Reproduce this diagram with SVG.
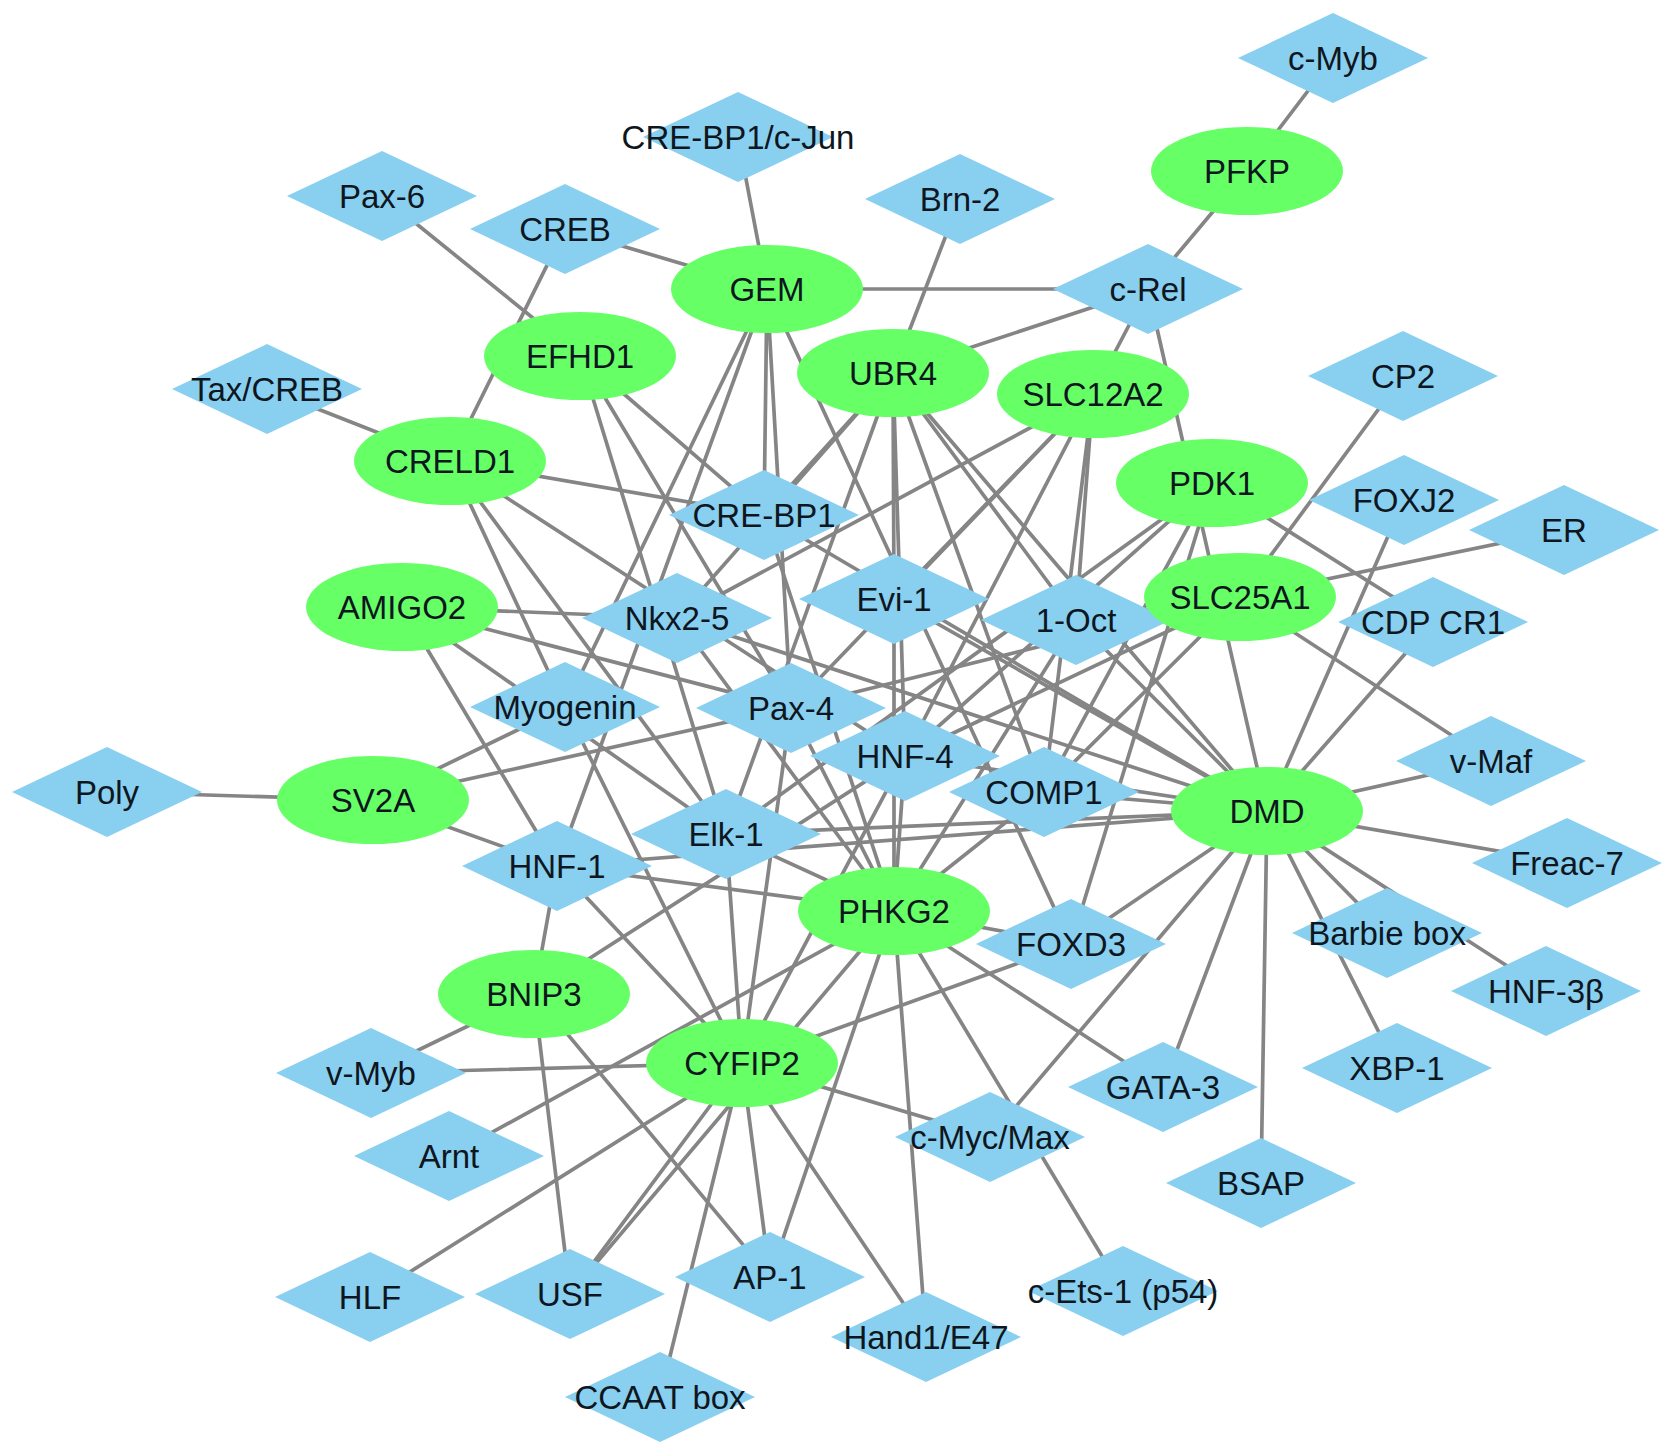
<svg xmlns="http://www.w3.org/2000/svg" xmlns:xlink="http://www.w3.org/1999/xlink" width="1677" height="1456" viewBox="0 0 1677 1456">
<style>
.edges line{stroke:#858585;stroke-width:3.7;stroke-linecap:round}
.dia{fill:#89cff0}
.ell{fill:#66ff66}
text{font-family:"Liberation Sans",Arial,sans-serif;font-size:33px;fill:#0e1620;text-anchor:middle}
</style>
<defs>
<polygon id="dm" class="dia" points="-95,0 0,-45 95,0 0,45"/>
<ellipse id="el" class="ell" cx="0" cy="0" rx="96" ry="44"/>
</defs>
<rect width="1677" height="1456" fill="#fff"/>
<g class="edges" id="edges">
<line x1="1333" y1="58" x2="1247" y2="171"/>
<line x1="1247" y1="171" x2="1148" y2="289"/>
<line x1="738" y1="137" x2="767" y2="289"/>
<line x1="565" y1="229" x2="767" y2="289"/>
<line x1="565" y1="229" x2="450" y2="461"/>
<line x1="382" y1="196" x2="580" y2="356"/>
<line x1="767" y1="289" x2="1148" y2="289"/>
<line x1="960" y1="199" x2="893" y2="373"/>
<line x1="893" y1="373" x2="1148" y2="289"/>
<line x1="1093" y1="394" x2="1148" y2="289"/>
<line x1="1148" y1="289" x2="1267" y2="811"/>
<line x1="267" y1="389" x2="450" y2="461"/>
<line x1="450" y1="461" x2="764" y2="515"/>
<line x1="450" y1="461" x2="565" y2="707"/>
<line x1="450" y1="461" x2="726" y2="834"/>
<line x1="450" y1="461" x2="905" y2="756"/>
<line x1="580" y1="356" x2="764" y2="515"/>
<line x1="580" y1="356" x2="791" y2="708"/>
<line x1="580" y1="356" x2="726" y2="834"/>
<line x1="767" y1="289" x2="565" y2="707"/>
<line x1="767" y1="289" x2="557" y2="866"/>
<line x1="767" y1="289" x2="764" y2="515"/>
<line x1="767" y1="289" x2="791" y2="708"/>
<line x1="767" y1="289" x2="1071" y2="944"/>
<line x1="893" y1="373" x2="764" y2="515"/>
<line x1="893" y1="373" x2="677" y2="618"/>
<line x1="893" y1="373" x2="894" y2="599"/>
<line x1="893" y1="373" x2="905" y2="756"/>
<line x1="893" y1="373" x2="726" y2="834"/>
<line x1="893" y1="373" x2="1076" y2="620"/>
<line x1="893" y1="373" x2="1044" y2="792"/>
<line x1="893" y1="373" x2="1267" y2="811"/>
<line x1="1093" y1="394" x2="677" y2="618"/>
<line x1="1093" y1="394" x2="894" y2="599"/>
<line x1="1093" y1="394" x2="791" y2="708"/>
<line x1="1093" y1="394" x2="905" y2="756"/>
<line x1="1093" y1="394" x2="1076" y2="620"/>
<line x1="1093" y1="394" x2="1044" y2="792"/>
<line x1="1212" y1="483" x2="1433" y2="622"/>
<line x1="1212" y1="483" x2="1044" y2="792"/>
<line x1="1212" y1="483" x2="905" y2="756"/>
<line x1="1212" y1="483" x2="726" y2="834"/>
<line x1="1212" y1="483" x2="1071" y2="944"/>
<line x1="1240" y1="597" x2="1403" y2="376"/>
<line x1="1240" y1="597" x2="1564" y2="530"/>
<line x1="1240" y1="597" x2="1491" y2="761"/>
<line x1="1240" y1="597" x2="1076" y2="620"/>
<line x1="1240" y1="597" x2="1044" y2="792"/>
<line x1="1240" y1="597" x2="905" y2="756"/>
<line x1="1240" y1="597" x2="791" y2="708"/>
<line x1="1267" y1="811" x2="1404" y2="500"/>
<line x1="1267" y1="811" x2="1433" y2="622"/>
<line x1="1267" y1="811" x2="1491" y2="761"/>
<line x1="1267" y1="811" x2="1567" y2="863"/>
<line x1="1267" y1="811" x2="1387" y2="933"/>
<line x1="1267" y1="811" x2="1546" y2="991"/>
<line x1="1267" y1="811" x2="1397" y2="1068"/>
<line x1="1267" y1="811" x2="1261" y2="1183"/>
<line x1="1267" y1="811" x2="1163" y2="1087"/>
<line x1="1267" y1="811" x2="990" y2="1137"/>
<line x1="1267" y1="811" x2="1071" y2="944"/>
<line x1="1267" y1="811" x2="1044" y2="792"/>
<line x1="1267" y1="811" x2="1076" y2="620"/>
<line x1="1267" y1="811" x2="894" y2="599"/>
<line x1="1267" y1="811" x2="764" y2="515"/>
<line x1="1267" y1="811" x2="905" y2="756"/>
<line x1="1267" y1="811" x2="726" y2="834"/>
<line x1="1267" y1="811" x2="557" y2="866"/>
<line x1="1267" y1="811" x2="677" y2="618"/>
<line x1="402" y1="607" x2="677" y2="618"/>
<line x1="402" y1="607" x2="791" y2="708"/>
<line x1="402" y1="607" x2="726" y2="834"/>
<line x1="402" y1="607" x2="557" y2="866"/>
<line x1="373" y1="800" x2="107" y2="792"/>
<line x1="373" y1="800" x2="565" y2="707"/>
<line x1="373" y1="800" x2="791" y2="708"/>
<line x1="373" y1="800" x2="557" y2="866"/>
<line x1="557" y1="866" x2="534" y2="994"/>
<line x1="557" y1="866" x2="894" y2="911"/>
<line x1="557" y1="866" x2="742" y2="1063"/>
<line x1="894" y1="911" x2="726" y2="834"/>
<line x1="894" y1="911" x2="677" y2="618"/>
<line x1="894" y1="911" x2="791" y2="708"/>
<line x1="894" y1="911" x2="905" y2="756"/>
<line x1="894" y1="911" x2="894" y2="599"/>
<line x1="894" y1="911" x2="1076" y2="620"/>
<line x1="894" y1="911" x2="1044" y2="792"/>
<line x1="894" y1="911" x2="764" y2="515"/>
<line x1="894" y1="911" x2="1071" y2="944"/>
<line x1="894" y1="911" x2="1163" y2="1087"/>
<line x1="894" y1="911" x2="1123" y2="1291"/>
<line x1="894" y1="911" x2="926" y2="1337"/>
<line x1="894" y1="911" x2="770" y2="1277"/>
<line x1="894" y1="911" x2="570" y2="1294"/>
<line x1="894" y1="911" x2="449" y2="1156"/>
<line x1="742" y1="1063" x2="371" y2="1073"/>
<line x1="742" y1="1063" x2="370" y2="1297"/>
<line x1="742" y1="1063" x2="570" y2="1294"/>
<line x1="742" y1="1063" x2="770" y2="1277"/>
<line x1="742" y1="1063" x2="660" y2="1397"/>
<line x1="742" y1="1063" x2="926" y2="1337"/>
<line x1="742" y1="1063" x2="990" y2="1137"/>
<line x1="742" y1="1063" x2="1071" y2="944"/>
<line x1="742" y1="1063" x2="565" y2="707"/>
<line x1="742" y1="1063" x2="726" y2="834"/>
<line x1="742" y1="1063" x2="791" y2="708"/>
<line x1="742" y1="1063" x2="905" y2="756"/>
<line x1="534" y1="994" x2="371" y2="1073"/>
<line x1="534" y1="994" x2="570" y2="1294"/>
<line x1="534" y1="994" x2="770" y2="1277"/>
<line x1="534" y1="994" x2="905" y2="756"/>
</g>
<g id="n-cMyb" transform="translate(1333,58)"><use xlink:href="#dm"/><text y="12">c-Myb</text></g>
<g id="n-CREBP1cJun" transform="translate(738,137)"><use xlink:href="#dm"/><text y="12">CRE-BP1/c-Jun</text></g>
<g id="n-Pax6" transform="translate(382,196)"><use xlink:href="#dm"/><text y="12">Pax-6</text></g>
<g id="n-Brn2" transform="translate(960,199)"><use xlink:href="#dm"/><text y="12">Brn-2</text></g>
<g id="n-CREB" transform="translate(565,229)"><use xlink:href="#dm"/><text y="12">CREB</text></g>
<g id="n-cRel" transform="translate(1148,289)"><use xlink:href="#dm"/><text y="12">c-Rel</text></g>
<g id="n-CP2" transform="translate(1403,376)"><use xlink:href="#dm"/><text y="12">CP2</text></g>
<g id="n-TaxCREB" transform="translate(267,389)"><use xlink:href="#dm"/><text y="12">Tax/CREB</text></g>
<g id="n-CREBP1" transform="translate(764,515)"><use xlink:href="#dm"/><text y="12">CRE-BP1</text></g>
<g id="n-FOXJ2" transform="translate(1404,500)"><use xlink:href="#dm"/><text y="12">FOXJ2</text></g>
<g id="n-ER" transform="translate(1564,530)"><use xlink:href="#dm"/><text y="12">ER</text></g>
<g id="n-Evi1" transform="translate(894,599)"><use xlink:href="#dm"/><text y="12">Evi-1</text></g>
<g id="n-Nkx25" transform="translate(677,618)"><use xlink:href="#dm"/><text y="12">Nkx2-5</text></g>
<g id="n-1Oct" transform="translate(1076,620)"><use xlink:href="#dm"/><text y="12">1-Oct</text></g>
<g id="n-CDPCR1" transform="translate(1433,622)"><use xlink:href="#dm"/><text y="12">CDP CR1</text></g>
<g id="n-Myogenin" transform="translate(565,707)"><use xlink:href="#dm"/><text y="12">Myogenin</text></g>
<g id="n-Pax4" transform="translate(791,708)"><use xlink:href="#dm"/><text y="12">Pax-4</text></g>
<g id="n-HNF4" transform="translate(905,756)"><use xlink:href="#dm"/><text y="12">HNF-4</text></g>
<g id="n-vMaf" transform="translate(1491,761)"><use xlink:href="#dm"/><text y="12">v-Maf</text></g>
<g id="n-Poly" transform="translate(107,792)"><use xlink:href="#dm"/><text y="12">Poly</text></g>
<g id="n-COMP1" transform="translate(1044,792)"><use xlink:href="#dm"/><text y="12">COMP1</text></g>
<g id="n-Elk1" transform="translate(726,834)"><use xlink:href="#dm"/><text y="12">Elk-1</text></g>
<g id="n-HNF1" transform="translate(557,866)"><use xlink:href="#dm"/><text y="12">HNF-1</text></g>
<g id="n-Freac7" transform="translate(1567,863)"><use xlink:href="#dm"/><text y="12">Freac-7</text></g>
<g id="n-FOXD3" transform="translate(1071,944)"><use xlink:href="#dm"/><text y="12">FOXD3</text></g>
<g id="n-Barbie" transform="translate(1387,933)"><use xlink:href="#dm"/><text y="12">Barbie box</text></g>
<g id="n-HNF3b" transform="translate(1546,991)"><use xlink:href="#dm"/><text y="12">HNF-3β</text></g>
<g id="n-vMyb" transform="translate(371,1073)"><use xlink:href="#dm"/><text y="12">v-Myb</text></g>
<g id="n-GATA3" transform="translate(1163,1087)"><use xlink:href="#dm"/><text y="12">GATA-3</text></g>
<g id="n-XBP1" transform="translate(1397,1068)"><use xlink:href="#dm"/><text y="12">XBP-1</text></g>
<g id="n-cMycMax" transform="translate(990,1137)"><use xlink:href="#dm"/><text y="12">c-Myc/Max</text></g>
<g id="n-Arnt" transform="translate(449,1156)"><use xlink:href="#dm"/><text y="12">Arnt</text></g>
<g id="n-BSAP" transform="translate(1261,1183)"><use xlink:href="#dm"/><text y="12">BSAP</text></g>
<g id="n-HLF" transform="translate(370,1297)"><use xlink:href="#dm"/><text y="12">HLF</text></g>
<g id="n-USF" transform="translate(570,1294)"><use xlink:href="#dm"/><text y="12">USF</text></g>
<g id="n-AP1" transform="translate(770,1277)"><use xlink:href="#dm"/><text y="12">AP-1</text></g>
<g id="n-cEts1" transform="translate(1123,1291)"><use xlink:href="#dm"/><text y="12">c-Ets-1 (p54)</text></g>
<g id="n-Hand1E47" transform="translate(926,1337)"><use xlink:href="#dm"/><text y="12">Hand1/E47</text></g>
<g id="n-CCAAT" transform="translate(660,1397)"><use xlink:href="#dm"/><text y="12">CCAAT box</text></g>
<g id="n-PFKP" transform="translate(1247,171)"><use xlink:href="#el"/><text y="12">PFKP</text></g>
<g id="n-GEM" transform="translate(767,289)"><use xlink:href="#el"/><text y="12">GEM</text></g>
<g id="n-EFHD1" transform="translate(580,356)"><use xlink:href="#el"/><text y="12">EFHD1</text></g>
<g id="n-UBR4" transform="translate(893,373)"><use xlink:href="#el"/><text y="12">UBR4</text></g>
<g id="n-SLC12A2" transform="translate(1093,394)"><use xlink:href="#el"/><text y="12">SLC12A2</text></g>
<g id="n-CRELD1" transform="translate(450,461)"><use xlink:href="#el"/><text y="12">CRELD1</text></g>
<g id="n-PDK1" transform="translate(1212,483)"><use xlink:href="#el"/><text y="12">PDK1</text></g>
<g id="n-AMIGO2" transform="translate(402,607)"><use xlink:href="#el"/><text y="12">AMIGO2</text></g>
<g id="n-SLC25A1" transform="translate(1240,597)"><use xlink:href="#el"/><text y="12">SLC25A1</text></g>
<g id="n-SV2A" transform="translate(373,800)"><use xlink:href="#el"/><text y="12">SV2A</text></g>
<g id="n-DMD" transform="translate(1267,811)"><use xlink:href="#el"/><text y="12">DMD</text></g>
<g id="n-PHKG2" transform="translate(894,911)"><use xlink:href="#el"/><text y="12">PHKG2</text></g>
<g id="n-BNIP3" transform="translate(534,994)"><use xlink:href="#el"/><text y="12">BNIP3</text></g>
<g id="n-CYFIP2" transform="translate(742,1063)"><use xlink:href="#el"/><text y="12">CYFIP2</text></g>
</svg>
